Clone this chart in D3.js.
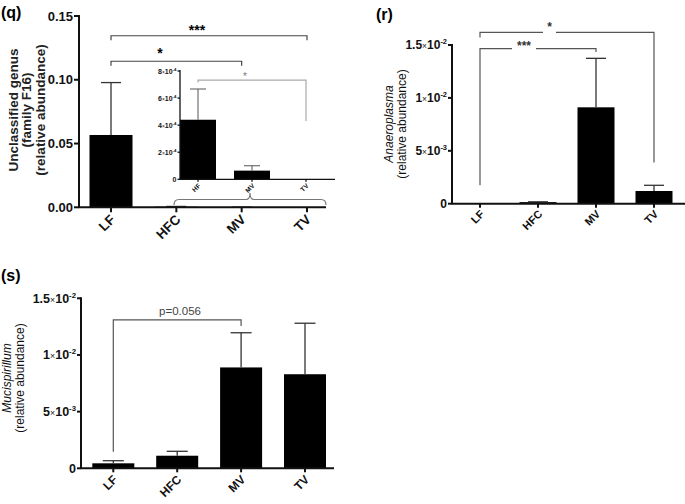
<!DOCTYPE html>
<html><head><meta charset="utf-8">
<script src="https://cdn.jsdelivr.net/npm/d3@7"></script>
<style>body{margin:0;background:#fff}svg{display:block}text{font-family:"Liberation Sans",Arial,sans-serif}</style>
</head><body>
<svg id="c" width="685" height="504"></svg>
<script>
// ---- data ----
const categories = ["LF", "HFC", "MV", "TV"];
const qMeans = [0.0567, 0.00044, 0.000064, 0];
const qErrors = [0.0411, 0.00023, 0.00004, 0];
const qTicks = [0, 0.05, 0.10, 0.15];
const qTickLabels = ["0.00", "0.05", "0.10", "0.15"];

const insetCategories = ["HF", "MV", "TV"];
const insetMeans = [0.00044, 0.000064, 0];
const insetErrors = [0.000227, 0.000036, 0];
const insetTicks = [0, 0.0002, 0.0004, 0.0006, 0.0008];
const insetTickLabels = [["0", ""], ["2", "-4"], ["4", "-4"], ["6", "-4"], ["8", "-4"]];

const rMeans = [0, 0.00015, 0.00911, 0.0012];
const rErrors = [0, 0.00003, 0.00463, 0.00054];
const sMeans = [0.00044, 0.00111, 0.0089, 0.0083];
const sErrors = [0.00023, 0.00039, 0.00306, 0.0045];
const expTicks = [0, 0.005, 0.01, 0.015];
const expTickLabels = [["0", ""], ["5", "-3"], ["1", "-2"], ["1.5", "-2"]];

const svg = d3.select("#c");
const AX = "#111";

function sciLabel(sel, lab, size) {
  sel.append("tspan").text(lab[0]);
  if (lab[1] !== "") {
    sel.append("tspan").attr("font-size", size * 0.7).attr("font-weight", "normal").text("\u00d7");
    sel.append("tspan").text("10");
    sel.append("tspan").attr("font-size", size * 0.62).attr("dy", -size * 0.42).text(lab[1]);
  }
}

function panel(o) {
  const g = svg.append("g");
  const x = d3.scalePoint().domain(o.cats).range(o.xr);
  const y = d3.scaleLinear().domain(o.yd).range(o.yr);
  g.selectAll("rect.bar").data(o.means).enter().append("rect")
    .attr("x", (d, i) => x(o.cats[i]) - o.bw / 2)
    .attr("y", d => y(d))
    .attr("width", o.bw)
    .attr("height", d => y(0) - y(d))
    .attr("fill", "#000");
  o.means.forEach((m, i) => {
    if (o.errs[i] <= 0) return;
    const cx = x(o.cats[i]);
    g.append("line").attr("x1", cx).attr("x2", cx).attr("y1", y(m)).attr("y2", y(m + o.errs[i]))
      .attr("stroke", o.errColor || "#333").attr("stroke-width", o.ew || 1.3);
    g.append("line").attr("x1", cx - o.cap / 2).attr("x2", cx + o.cap / 2)
      .attr("y1", y(m + o.errs[i])).attr("y2", y(m + o.errs[i]))
      .attr("stroke", o.errColor || "#333").attr("stroke-width", o.ew || 1.3);
  });
  g.append("line").attr("x1", o.x0).attr("x2", o.x0).attr("y1", y(o.yd[1]) - 1).attr("y2", y(0))
    .attr("stroke", o.axColor || AX).attr("stroke-width", o.aw);
  g.append("line").attr("x1", o.x0 - 0.5).attr("x2", o.xEnd).attr("y1", y(0)).attr("y2", y(0))
    .attr("stroke", o.axColor || AX).attr("stroke-width", o.aw);
  o.ticks.forEach((t, i) => {
    g.append("line").attr("x1", o.x0 - o.tl).attr("x2", o.x0).attr("y1", y(t)).attr("y2", y(t))
      .attr("stroke", o.axColor || AX).attr("stroke-width", o.aw);
    const tx = g.append("text").attr("x", o.x0 - o.tl - 1).attr("y", y(t) + o.tfs * 0.36)
      .attr("text-anchor", "end").attr("font-size", o.tfs).attr("font-weight", "bold")
      .attr("fill", o.textColor || "#111");
    if (o.sci) sciLabel(tx, o.tickLabels[i], o.tfs); else tx.text(o.tickLabels[i]);
  });
  o.cats.forEach(c => {
    g.append("line").attr("x1", x(c)).attr("x2", x(c)).attr("y1", y(0)).attr("y2", y(0) + o.tl)
      .attr("stroke", o.axColor || AX).attr("stroke-width", o.aw);
    g.append("text").attr("text-anchor", "end").attr("font-size", o.xfs).attr("font-weight", "bold")
      .attr("fill", o.textColor || "#111")
      .attr("transform", `translate(${x(c) + o.xlo[0]},${y(0) + o.xlo[1]}) rotate(-45)`).text(c);
  });
  return {x, y, g};
}

function bracket(p, a, b, yv, legA, legB, color, gap) {
  const xa = p.x(a), xb = p.x(b), yy = p.y(yv);
  const pth = d3.path();
  pth.moveTo(xa, p.y(legA)); pth.lineTo(xa, yy);
  if (gap) { pth.lineTo(gap[0], yy); pth.moveTo(gap[1], yy); }
  pth.lineTo(xb, yy); pth.lineTo(xb, p.y(legB));
  p.g.append("path").attr("d", pth.toString()).attr("fill", "none").attr("stroke", color).attr("stroke-width", 1.2);
}

// ---------- panel q ----------
const q = panel({cats: categories, means: qMeans, errs: qErrors, xr: [111, 307], yd: [0, 0.15], yr: [207.3, 16],
  bw: 43, cap: 20, x0: 79, xEnd: 326, aw: 2, tl: 5, ticks: qTicks, tickLabels: qTickLabels, tfs: 13, xfs: 13.5,
  xlo: [5, 13], sci: false});
bracket(q, "LF", "TV", 0.1345, 0.131, 0.131, "#444");
q.g.append("text").attr("x", 197).attr("y", 35).attr("text-anchor", "middle").attr("font-size", 14).attr("font-weight", "bold").text("***");
bracket(q, "LF", "MV", 0.1145, 0.1109, 0.1109, "#444");
q.g.append("text").attr("x", 160).attr("y", 58).attr("text-anchor", "middle").attr("font-size", 14).attr("font-weight", "bold").text("*");
svg.append("text").attr("x", 1).attr("y", 18).attr("font-size", 16).attr("font-weight", "bold").text("(q)");
[["Unclassified genus", 17.5], ["(family F16)", 31], ["(relative abundance)", 44.5]].forEach(([t, bx]) => {
  svg.append("text").attr("transform", `translate(${bx},110) rotate(-90)`).attr("text-anchor", "middle")
    .attr("font-size", 13.5).attr("font-weight", "bold").attr("fill", "#222").text(t);
});

// inset
const ins = panel({cats: insetCategories, means: insetMeans, errs: insetErrors, xr: [198, 306], yd: [0, 0.0008], yr: [179.3, 71],
  bw: 36, cap: 16, x0: 180, xEnd: 335, aw: 1.3, tl: 2.5, ticks: insetTicks, tickLabels: insetTickLabels, tfs: 7, xfs: 6.5,
  xlo: [3, 7], sci: true, errColor: "#555", ew: 1});
bracket(ins, "HF", "TV", 0.000732, 0.000715, 0.00043, "#aaa");
ins.g.append("text").attr("x", 245).attr("y", 80).attr("text-anchor", "middle").attr("font-size", 10).attr("fill", "#777").text("*");
(function () {
  const p = d3.path();
  p.moveTo(174, 205); p.quadraticCurveTo(174, 199.5, 179, 199.5);
  p.lineTo(246, 199.5); p.quadraticCurveTo(250, 199.5, 250, 193);
  p.quadraticCurveTo(250, 199.5, 254, 199.5);
  p.lineTo(321, 199.5); p.quadraticCurveTo(326, 199.5, 326, 205);
  svg.append("path").attr("d", p.toString()).attr("fill", "none").attr("stroke", "#777").attr("stroke-width", 1.2);
})();

// ---------- panel r ----------
const r = panel({cats: categories, means: rMeans, errs: rErrors, xr: [480, 654], yd: [0, 0.015], yr: [203.7, 45],
  bw: 37, cap: 20, x0: 452, xEnd: 686, aw: 2, tl: 4, ticks: expTicks, tickLabels: expTickLabels, tfs: 12, xfs: 11,
  xlo: [5, 11], sci: true});
bracket(r, "LF", "MV", 0.01465, 0.00175, 0.01435, "#555", [512, 536]);
r.g.append("text").attr("x", 524).attr("y", 50).attr("text-anchor", "middle").attr("font-size", 12).attr("font-weight", "bold").attr("fill", "#333").text("***");
bracket(r, "LF", "TV", 0.0162, 0.0157, 0.0039, "#555", [543, 556]);
r.g.append("text").attr("x", 549.5).attr("y", 31).attr("text-anchor", "middle").attr("font-size", 12).attr("font-weight", "bold").attr("fill", "#333").text("*");
svg.append("text").attr("x", 376).attr("y", 20).attr("font-size", 16).attr("font-weight", "bold").text("(r)");
svg.append("text").attr("transform", "translate(393,124) rotate(-90)").attr("text-anchor", "middle")
  .attr("font-size", 12).attr("font-style", "italic").attr("fill", "#111").text("Anaeroplasma");
svg.append("text").attr("transform", "translate(405.5,124) rotate(-90)").attr("text-anchor", "middle")
  .attr("font-size", 12).attr("fill", "#111").text("(relative abundance)");

// ---------- panel s ----------
const s = panel({cats: categories, means: sMeans, errs: sErrors, xr: [113.3, 305], yd: [0, 0.015], yr: [468.3, 298.3],
  bw: 42, cap: 21, x0: 81, xEnd: 334, aw: 2, tl: 4, ticks: expTicks, tickLabels: expTickLabels, tfs: 12.5, xfs: 12,
  xlo: [5, 12], sci: true});
bracket(s, "LF", "MV", 0.0131, 0.00146, 0.01255, "#555");
s.g.append("text").attr("x", 180).attr("y", 315).attr("text-anchor", "middle").attr("font-size", 11.5).attr("fill", "#444").text("p=0.056");
svg.append("text").attr("x", 1).attr("y", 281).attr("font-size", 16).attr("font-weight", "bold").text("(s)");
svg.append("text").attr("transform", "translate(11,378) rotate(-90)").attr("text-anchor", "middle")
  .attr("font-size", 12).attr("font-style", "italic").attr("fill", "#111").text("Mucispirillum");
svg.append("text").attr("transform", "translate(23.5,378) rotate(-90)").attr("text-anchor", "middle")
  .attr("font-size", 12).attr("fill", "#111").text("(relative abundance)");
</script>
</body></html>
